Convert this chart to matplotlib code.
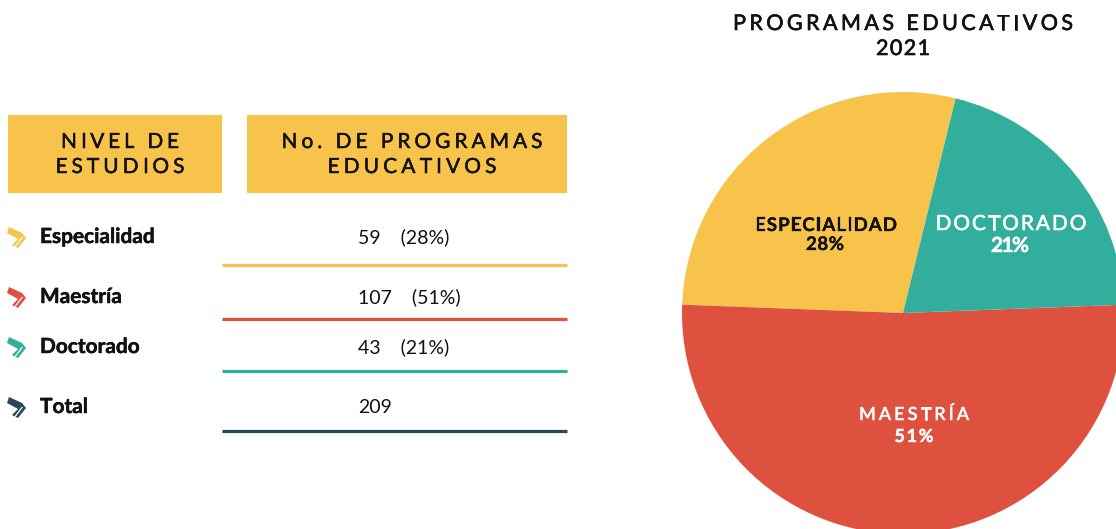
import matplotlib
matplotlib.use("Agg")
import matplotlib.pyplot as plt
from matplotlib import patheffects as pe
from matplotlib.patches import Rectangle, Polygon
from matplotlib.font_manager import FontProperties, findfont
from matplotlib.ft2font import FT2Font

try:
    from matplotlib.ft2font import LoadFlags
    NOHINT = LoadFlags.NO_HINTING
except ImportError:
    from matplotlib.ft2font import LOAD_NO_HINTING as NOHINT

# Programas educativos 2021 por nivel de estudios
niveles = ["Especialidad", "Maestría", "Doctorado"]
programas = [59, 107, 43]
etiquetas_pie = ["ESPECIALIDAD", "MAESTRÍA", "DOCTORADO"]
titulo = ["PROGRAMAS EDUCATIVOS", "2021"]
encabezados = [["NIVEL DE", "ESTUDIOS"], ["No. DE PROGRAMAS", "EDUCATIVOS"]]

AMARILLO = "#F8C34B"
ROJO = "#DF513F"
VERDE = "#31AE9C"
AZUL = "#2A465B"
colores = [AMARILLO, ROJO, VERDE]
FAM = "Lato"
NEGRO = "#111111"

total = sum(programas)
pct = [round(v / total * 100) for v in programas]

W, H = 1116, 529
fig = plt.figure(figsize=(W / 100, H / 100), dpi=100)

# pie on its own axes, centre (903, 313) px, radius 221 px
cx, cy, r = 903, 313, 221
ax_pie = fig.add_axes([(cx - r) / W, (H - cy - r) / H, 2 * r / W, 2 * r / H])
deg = [v / total * 360 for v in programas]
start = 270 - deg[0] - deg[1] / 2   # Maestría centred on the bottom
ax_pie.pie(programas, colors=colores, startangle=start, counterclock=True,
           radius=1, wedgeprops=dict(linewidth=0))
ax_pie.set_xlim(-1, 1)
ax_pie.set_ylim(-1, 1)
ax_pie.set_aspect("auto")
ax_pie.axis("off")

# everything else in pixel coordinates, y pointing down
ax = fig.add_axes([0, 0, 1, 1])
ax.set_xlim(0, W)
ax.set_ylim(H, 0)
ax.axis("off")
ax.set_zorder(2)


def grueso(color, lw):
    return [pe.withStroke(linewidth=lw, foreground=color)]


def tracked(x, y, s, width, size, weight="normal", color=NEGRO, extra=0.35):
    """Letter-spaced text centred on x, baseline at y, spread to `width` px."""
    prop = FontProperties(family=FAM, weight=weight, size=size)
    font = FT2Font(findfont(prop))
    font.set_size(size, fig.dpi)
    adv = [font.load_char(ord(c), flags=NOHINT).linearHoriAdvance / 65536 for c in s]
    gap = (width - sum(adv[:-1]) - adv[-1]) / max(len(s) - 1, 1)
    px = x - width / 2
    for c, a in zip(s, adv):
        ax.text(px + a / 2, y, c, ha="center", va="baseline", fontproperties=prop,
                color=color, path_effects=grueso(color, extra) if extra else None)
        px += a + gap


# title
tracked(903, 30, titulo[0], 340, 15.5, extra=0.45)
tracked(903, 55, titulo[1], 54, 15.5, extra=0.45)

# header boxes
cajas = [(8, 222), (247, 567)]
for (x0, x1), lineas, cxh, anchos in zip(cajas, encabezados, [120, 412],
                                          [[118, 129], [261, 169]]):
    ax.add_patch(Rectangle((x0, 115), x1 - x0, 78, facecolor=AMARILLO, lw=0))
    tracked(cxh, 148, lineas[0], anchos[0], 15, extra=0.35)
    tracked(cxh, 173, lineas[1], anchos[1], 15, extra=0.35)

# table rows
filas = niveles + ["Total"]
valores = [f"{v}    ({p}%)" for v, p in zip(programas, pct)] + [str(total)]
lineas_col = colores + [AZUL]
bases = [243, 303, 353, 413]
rayas = [265, 319, 371, 431]

# chevron icon outline (offsets in px, y down) and the stripe cut into it
chev = [(-8, -11), (5, -5), (9, 0), (1, 10), (-5, 7), (1, 1), (-10, -5)]
for fila, val, col, yb, yr in zip(filas, valores, lineas_col, bases, rayas):
    ic_x, ic_y = 17, yb - 5
    ax.add_patch(Polygon([(ic_x + dx, ic_y + dy) for dx, dy in chev], closed=True,
                         facecolor=col, lw=0))
    ax.plot([ic_x + 5, ic_x - 1.5], [ic_y - 0.5, ic_y + 8], color="white", lw=0.9)
    ax.text(40, yb, fila, ha="left", va="baseline", family=FAM, weight="bold",
            size=15, color=NEGRO, path_effects=grueso(NEGRO, 0.35))
    ax.text(358, yb, val, ha="left", va="baseline", family=FAM, size=14,
            color=NEGRO)
    ax.plot([222, 567], [yr, yr], color=col, lw=2.3, solid_capstyle="butt")

# labels on the pie slices
tracked(826, 231, etiquetas_pie[0], 142, 13.5, weight="bold", extra=0.2)
tracked(825, 250, f"{pct[0]}%", 38, 13.5, weight="bold", extra=0.2)
tracked(1011, 230, etiquetas_pie[2], 151, 15, color="white", extra=0.4)
tracked(1010, 252, f"{pct[2]}%", 38, 15, weight="bold", color="white", extra=0.3)
tracked(914, 420, etiquetas_pie[1], 110, 13, color="white", extra=0.4)
tracked(914, 442, f"{pct[1]}%", 39, 13, weight="bold", color="white", extra=0.3)

fig.savefig("out.png", dpi=100)
